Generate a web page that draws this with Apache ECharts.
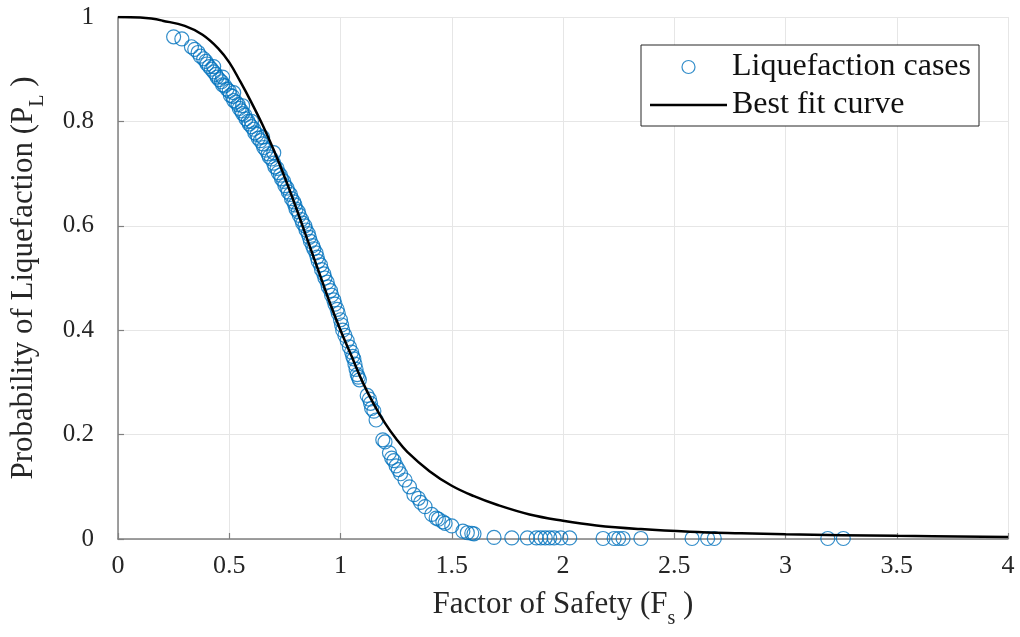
<!DOCTYPE html>
<html>
<head>
<meta charset="utf-8">
<script src="https://cdn.jsdelivr.net/npm/echarts@6/dist/echarts.min.js"></script>
<style>html,body{margin:0;padding:0;background:#fff;}#c{width:1020px;height:637px;}</style>
</head>
<body>
<div id="c"></div>
<script>
// Liquefaction cases
const caseFs = [0.25,0.287,0.33,0.345,0.36,0.37,0.385,0.395,0.40,0.41,0.42,0.43,0.44,0.445,0.455,0.465,0.47,0.48,0.49,0.50,0.505,0.515,0.52,0.53,0.54,0.545,0.555,0.56,0.57,0.575,0.585,0.59,0.60,0.61,0.615,0.625,0.63,0.64,0.65,0.655,0.665,0.675,0.68,0.69,0.70,0.705,0.715,0.72,0.73,0.735,0.745,0.75,0.76,0.765,0.775,0.78,0.79,0.795,0.80,0.81,0.815,0.825,0.83,0.84,0.845,0.855,0.86,0.865,0.875,0.88,0.89,0.895,0.90,0.91,0.915,0.925,0.93,0.94,0.945,0.955,0.96,0.97,0.975,0.985,0.99,1.0,1.005,1.01,1.02,1.03,1.04,1.05,1.055,1.06,1.065,1.07,1.075,1.08,1.085,1.12,1.13,1.135,1.14,1.15,1.16,1.19,1.20,1.22,1.23,1.24,1.25,1.26,1.27,1.29,1.31,1.33,1.35,1.36,1.38,1.41,1.43,1.44,1.46,1.47,1.50,1.55,1.57,1.59,1.60,1.69,1.77,1.84,1.88,1.90,1.92,1.94,1.96,1.99,2.03,2.18,2.23,2.25,2.27,2.35,2.58,2.65,2.68,3.19,3.26,0.43,0.47,0.52,0.56,0.60,0.65,0.70];
const casePL = [0.962,0.958,0.943,0.938,0.932,0.925,0.92,0.915,0.91,0.905,0.9,0.895,0.89,0.885,0.88,0.876,0.87,0.868,0.862,0.858,0.85,0.848,0.84,0.837,0.832,0.825,0.82,0.815,0.812,0.805,0.8,0.795,0.79,0.785,0.778,0.775,0.768,0.763,0.757,0.75,0.745,0.738,0.732,0.728,0.72,0.713,0.71,0.702,0.697,0.69,0.685,0.677,0.672,0.665,0.66,0.652,0.646,0.64,0.632,0.627,0.62,0.612,0.605,0.6,0.592,0.585,0.578,0.57,0.562,0.556,0.548,0.54,0.532,0.525,0.516,0.508,0.5,0.492,0.483,0.476,0.467,0.458,0.45,0.44,0.432,0.42,0.41,0.4,0.39,0.38,0.368,0.358,0.35,0.345,0.335,0.325,0.315,0.31,0.305,0.275,0.268,0.26,0.25,0.245,0.228,0.19,0.186,0.165,0.155,0.15,0.14,0.133,0.125,0.113,0.1,0.085,0.078,0.07,0.062,0.047,0.04,0.038,0.033,0.03,0.025,0.015,0.012,0.011,0.01,0.003,0.002,0.002,0.002,0.002,0.002,0.002,0.002,0.002,0.002,0.001,0.001,0.001,0.001,0.001,0.001,0.001,0.001,0.001,0.001,0.905,0.885,0.855,0.83,0.80,0.77,0.74];
// Best fit curve
const curveFs = [0,0.1,0.15,0.2,0.3,0.38,0.45,0.5,0.55,0.6,0.65,0.7,0.75,0.8,0.85,0.9,0.95,1.0,1.05,1.1,1.15,1.2,1.25,1.3,1.4,1.5,1.6,1.7,1.85,2.0,2.15,2.35,2.57,2.8,3.0,3.5,4.0];
const curvePL = [1.0,0.999,0.997,0.993,0.983,0.966,0.94,0.913,0.876,0.836,0.793,0.745,0.692,0.635,0.575,0.515,0.455,0.40,0.35,0.30,0.258,0.222,0.192,0.167,0.13,0.102,0.082,0.066,0.047,0.035,0.026,0.019,0.014,0.011,0.009,0.006,0.004];
const xTicks = ['0','0.5','1','1.5','2','2.5','3','3.5','4'];
const yTicks = ['0','0.2','0.4','0.6','0.8','1'];

const FONT = '"Liberation Serif","Times New Roman",serif';
const casePts = caseFs.map((x,i)=>[x,casePL[i]]);
const curvePts = curveFs.map((x,i)=>[x,curvePL[i]]);

const chart = echarts.init(document.getElementById('c'));
chart.setOption({
  animation:false,
  backgroundColor:'#fff',
  textStyle:{fontFamily:FONT},
  grid:{left:116,right:12,top:17,bottom:98,containLabel:false},
  legend:{
    left:641, top:45, orient:'vertical',
    backgroundColor:'#fff', borderColor:'#262626', borderWidth:1,
    padding:[6,8,5,9], itemGap:6, itemWidth:77, itemHeight:13,
    textStyle:{fontFamily:FONT,fontSize:32,color:'#111'},
    data:[
      {name:'Liquefaction cases', icon:'circle', itemStyle:{color:'rgba(0,0,0,0)',borderColor:'#0072BD',borderWidth:1.2}},
      {name:'Best fit curve', icon:'path://M0,0H77V2.5H0Z', itemStyle:{color:'#000',borderWidth:0}}
    ]
  },
  xAxis:{
    type:'value', min:0, max:4, interval:0.5,
    name:'{m|Factor of Safety (F}{s|s}{m| )}',
    nameLocation:'middle', nameGap:50,
    nameTextStyle:{rich:{
      m:{fontFamily:FONT,fontSize:31,color:'#262626',verticalAlign:'bottom',padding:[0,0,9,0]},
      s:{fontFamily:FONT,fontSize:20,color:'#262626',verticalAlign:'bottom'}
    }},
    axisLine:{show:true,lineStyle:{color:'#808080',width:1.5}},
    axisTick:{show:true,inside:true,length:6,lineStyle:{color:'#808080',width:1.2}},
    axisLabel:{fontFamily:FONT,fontSize:26,color:'#262626',margin:14,
      formatter:(v)=>xTicks[Math.round(v/0.5)]},
    splitLine:{show:true,lineStyle:{color:'#e6e6e6',width:1}}
  },
  yAxis:{
    type:'value', min:0, max:1, interval:0.2,
    name:'{m|Probability of Liquefaction (P}{s|L}{m| )}',
    nameLocation:'middle', nameGap:70, nameRotate:90,
    nameTextStyle:{rich:{
      m:{fontFamily:FONT,fontSize:31,color:'#262626',verticalAlign:'bottom',padding:[0,0,9,0]},
      s:{fontFamily:FONT,fontSize:20,color:'#262626',verticalAlign:'bottom'}
    }},
    axisLine:{show:true,lineStyle:{color:'#808080',width:1.5}},
    axisTick:{show:true,inside:true,length:6,lineStyle:{color:'#808080',width:1.2}},
    axisLabel:{fontFamily:FONT,fontSize:25,color:'#262626',margin:24,
      formatter:(v)=>yTicks[Math.round(v/0.2)]},
    splitLine:{show:true,lineStyle:{color:'#e6e6e6',width:1}}
  },
  series:[
    {
      name:'Liquefaction cases', type:'scatter', data:casePts,
      symbol:'circle', symbolSize:14,
      itemStyle:{color:'rgba(0,0,0,0)',borderColor:'#0072BD',borderWidth:1.2},
      z:2
    },
    {
      name:'Best fit curve', type:'line', data:curvePts,
      smooth:0.4, symbol:'none', showSymbol:false,
      itemStyle:{color:'#000'},
      lineStyle:{color:'#000',width:2.5},
      z:3
    }
  ]
});
</script>
</body>
</html>
